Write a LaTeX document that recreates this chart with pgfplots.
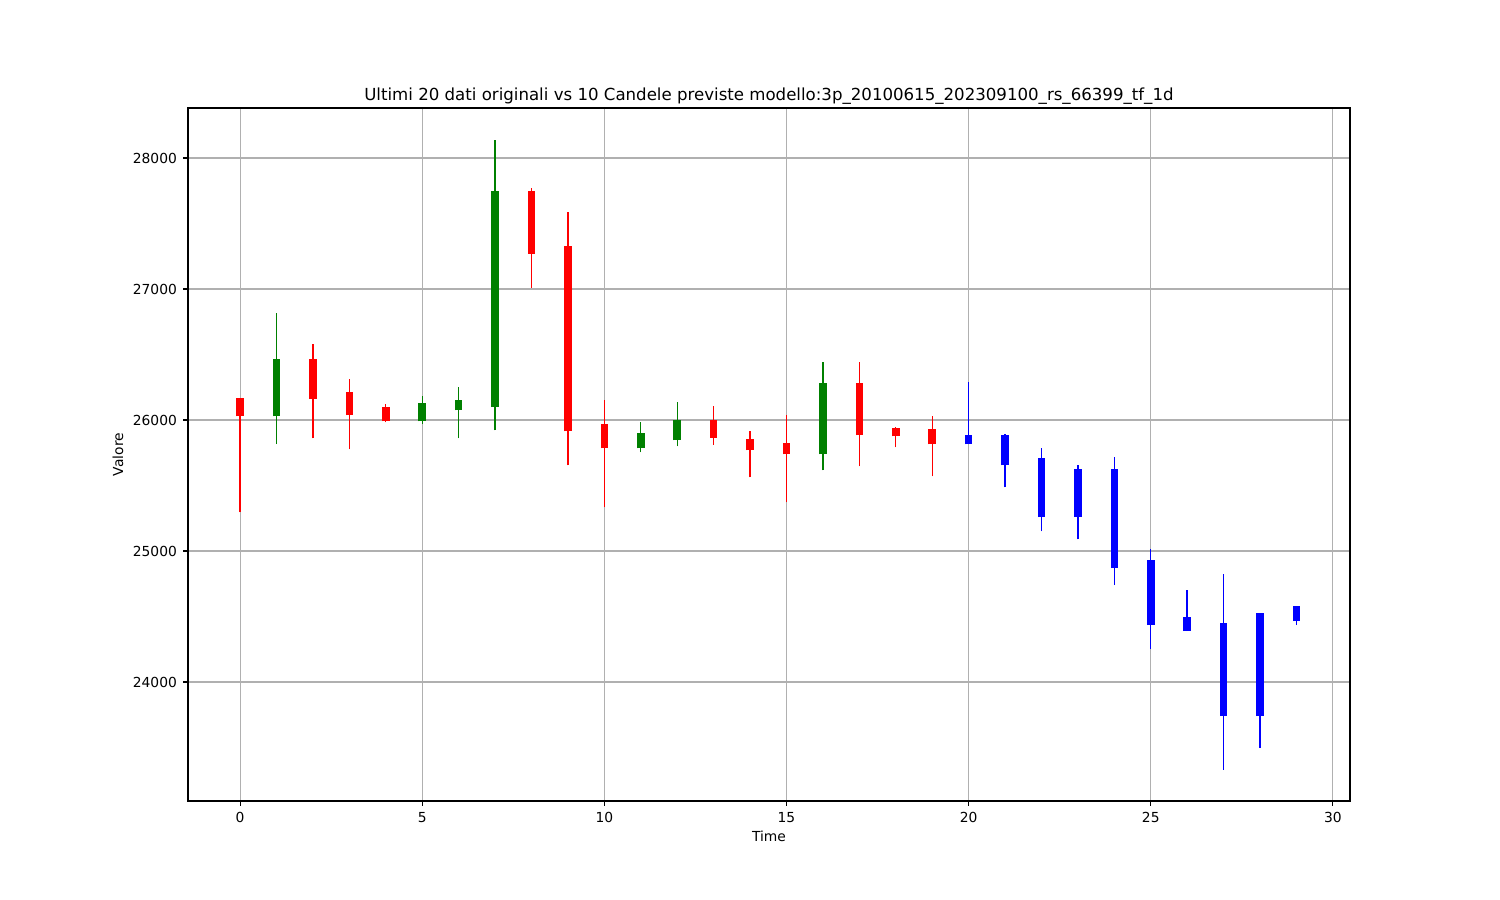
\documentclass[border=0pt]{standalone}
\usepackage{pgfplots}
\usepackage{pgfplotstable}
\pgfplotsset{compat=1.18}
\usepackage{fontspec}
\setmainfont{DejaVu Sans}
\pgfplotstableread{
x bb bt l h
1 26027 26467 25817 26818
5 25989 26132 25969 26185
6 26073 26155 25860 26254
7 26099 27748 25921 28136
11 25784 25903 25753 25987
12 25845 26002 25799 26139
16 25738 26284 25616 26444
}\greendata
\pgfplotstableread{
x bb bt l h
0 26027 26168 25296 26168
2 26160 26467 25860 26582
3 26035 26216 25776 26315
4 25989 26096 25982 26124
8 27270 27748 27011 27771
9 25913 27329 25654 27588
10 25784 25972 25334 26155
13 25865 26002 25812 26109
14 25768 25857 25563 25918
15 25738 25827 25372 26040
17 25883 26284 25646 26444
18 25875 25941 25791 25949
19 25814 25934 25570 26033
}\reddata
\pgfplotstableread{
x bb bt l h
20 25814 25888 25814 26292
21 25654 25888 25486 25896
22 25258 25713 25151 25789
23 25258 25629 25090 25660
24 24869 25629 24739 25720
25 24434 24928 24251 25019
26 24389 24493 24389 24699
27 23739 24447 23329 24821
28 23739 24524 23497 24524
29 24465 24577 24434 24577
}\bluedata
\definecolor{mplgreen}{RGB}{0,128,0}
\definecolor{gridgray}{RGB}{176,176,176}
\pgfplotsset{
  candle/.style n args={2}{draw=none, no markers, forget plot,
    error bars/.cd, y dir=plus, y explicit, error mark=none,
    error bar style={draw=#1, line width=#2, line cap=butt}},
}
\begin{document}
\begin{tikzpicture}
\begin{axis}[
  at={(0,0)}, anchor=south west,
  scale only axis, width=11.62in, height=6.93in,
  xmin=-1.43, xmax=30.47, ymin=23092, ymax=28382,
  xtick={0,5,...,30}, ytick={24000,25000,26000,27000,28000},
  scaled y ticks=false,
  grid=major, major grid style={gridgray, line width=0.8pt},
  axis line style={black, line width=0.8pt},
  tick style={black, line width=0.8pt},
  tick align=outside, major tick length=3.5pt,
  xtick pos=bottom, ytick pos=left,
  /pgf/number format/.cd, 1000 sep={}, assume math mode=true,
  /pgfplots/.cd,
  ticklabel style={font=\fontsize{10}{12}\selectfont},
  xticklabel style={yshift=-1pt},
  yticklabel style={xshift=-1pt},
  title={Ultimi 20 dati originali vs 10 Candele previste modello:3p\_20100615\_202309100\_rs\_66399\_tf\_1d},
  title style={font=\fontsize{12}{14}\selectfont, yshift=-7pt},
  xlabel={Time}, ylabel={Valore},
  label style={font=\fontsize{10}{12}\selectfont},
  xlabel style={yshift=1pt},
]
% wicks
\addplot[candle={mplgreen}{1pt}] table[x=x, y=l, y error plus expr=\thisrow{h}-\thisrow{l}] {\greendata};
\addplot[candle={red}{1pt}] table[x=x, y=l, y error plus expr=\thisrow{h}-\thisrow{l}] {\reddata};
\addplot[candle={blue}{1pt}] table[x=x, y=l, y error plus expr=\thisrow{h}-\thisrow{l}] {\bluedata};
% bodies
\addplot[candle={mplgreen}{5.5pt}] table[x=x, y=bb, y error plus expr=\thisrow{bt}-\thisrow{bb}] {\greendata};
\addplot[candle={red}{5.5pt}] table[x=x, y=bb, y error plus expr=\thisrow{bt}-\thisrow{bb}] {\reddata};
\addplot[candle={blue}{5.5pt}] table[x=x, y=bb, y error plus expr=\thisrow{bt}-\thisrow{bb}] {\bluedata};
\end{axis}
\pgfresetboundingbox
\path[use as bounding box] (-1.88in,-0.99in) rectangle (13.12in,8.01in);
\end{tikzpicture}
\end{document}
